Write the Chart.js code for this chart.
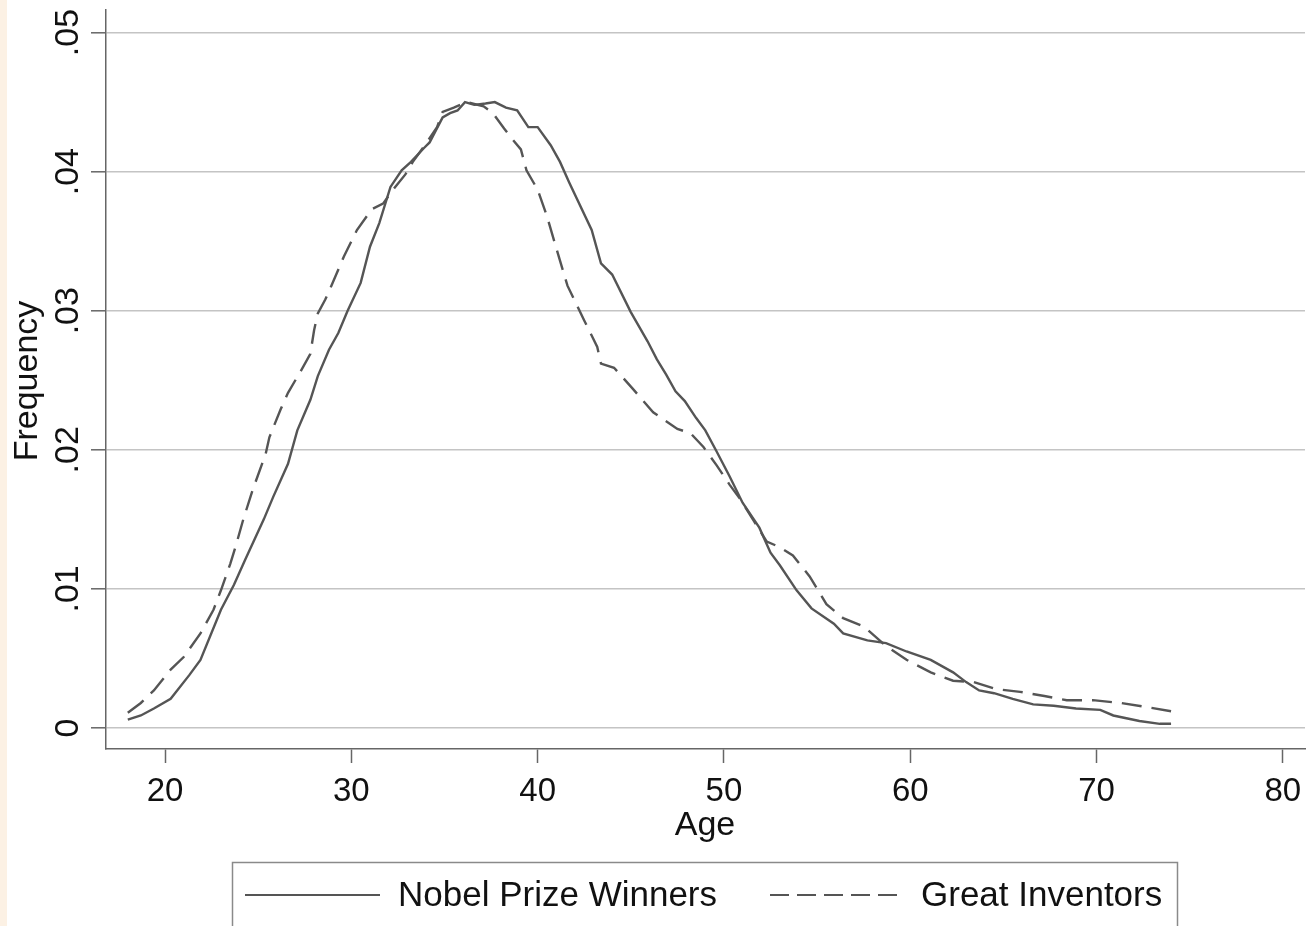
<!DOCTYPE html>
<html>
<head>
<meta charset="utf-8">
<script src="https://cdn.jsdelivr.net/npm/chart.js@4"></script>
<style>
html,body{margin:0;padding:0;}
body{width:1306px;height:926px;overflow:hidden;background:linear-gradient(to right,#fcf1e4 0,#fcf1e4 7px,#fff 7px);}
canvas{display:block;}
</style>
</head>
<body>
<canvas id="c" width="1306" height="926"></canvas>
<script>
// ages / densities
const nobelAge = [18.0,18.7,19.4,20.3,21.3,21.9,23.0,23.7,24.3,25.3,25.8,26.6,27.1,27.8,28.2,28.8,29.3,29.8,30.5,31.0,31.5,32.1,32.7,33.2,33.9,34.2,34.9,35.3,35.7,36.1,36.6,37.2,37.7,38.3,38.9,39.5,40.0,40.7,41.2,41.7,42.9,43.4,44.0,45.0,45.9,46.4,46.9,47.4,47.9,48.5,49.0,49.6,50.3,51.0,51.9,52.5,53.0,53.9,54.7,55.9,56.4,57.7,58.7,59.8,61.1,62.3,63.0,63.7,64.5,65.5,66.6,67.7,68.9,70.2,70.9,72.3,73.4,74.0];
const nobelFreq = [.0006,.0009,.0014,.0021,.0038,.0049,.0085,.0103,.0121,.0150,.0166,.0190,.0214,.0236,.0253,.0272,.0284,.0300,.0320,.0346,.0363,.0389,.0401,.0407,.0417,.0421,.0439,.0442,.0444,.0450,.0448,.0449,.0450,.0446,.0444,.0432,.0432,.0419,.0407,.0392,.0358,.0334,.0326,.0299,.0278,.0265,.0254,.0242,.0235,.0223,.0214,.0199,.0181,.0162,.0144,.0126,.0117,.0099,.0086,.0075,.0068,.0063,.0061,.0055,.0049,.0040,.0033,.0027,.0025,.0021,.0017,.0016,.0014,.0013,.0009,.0005,.0003,.0003];

const invAge = [18.0,18.7,19.4,20.3,21.0,21.9,22.6,23.0,23.5,23.8,24.2,24.7,25.4,25.6,26.2,26.6,27.3,27.8,28.0,28.2,28.6,28.9,29.6,30.3,31.1,31.7,32.3,32.9,33.3,34.0,34.6,34.9,35.5,36.2,37.1,37.6,38.2,38.6,39.1,39.4,40.0,40.5,41.0,41.6,42.5,43.2,43.4,44.1,45.1,46.2,47.5,48.2,48.9,49.6,50.3,50.9,52.3,53.0,53.7,54.6,55.5,56.4,57.5,58.7,59.8,61.1,62.3,63.4,64.6,65.9,67.2,68.4,69.8,71.3,72.7,74.0];
const invFreq = [.0011,.0018,.0027,.0042,.0051,.0068,.0085,.0099,.0118,.0131,.0150,.0171,.0197,.0209,.0229,.0241,.0257,.0269,.0286,.0298,.0308,.0317,.0339,.0358,.0373,.0377,.0388,.0398,.0407,.0420,.0432,.0443,.0446,.0450,.0447,.0442,.0431,.0424,.0416,.0401,.0387,.0368,.0345,.0318,.0293,.0274,.0262,.0259,.0244,.0227,.0215,.0212,.0202,.0189,.0175,.0164,.0134,.0130,.0124,.0109,.0089,.0079,.0073,.0059,.0049,.0040,.0034,.0033,.0028,.0026,.0023,.0020,.0020,.0018,.0015,.0012];

const xTicks = [20,30,40,50,60,70,80];
const yTicks = [0,.01,.02,.03,.04,.05];
const yLabels = ['0','.01','.02','.03','.04','.05'];
const seriesNames = ['Nobel Prize Winners','Great Inventors'];

const lineCol = '#555555';
const font = '"Liberation Sans", Arial, sans-serif';

const toPts = (xs, ys) => xs.map((a, i) => ({x: a, y: ys[i]}));

// axis labels, titles and the boxed legend (Stata look)
const textPlugin = {
  id: 'texts',
  afterDraw(chart) {
    const ctx = chart.ctx;
    const xs = chart.scales.x, ys = chart.scales.y;
    ctx.save();
    ctx.fillStyle = '#111';
    ctx.textAlign = 'center';
    ctx.textBaseline = 'alphabetic';

    ctx.font = '33px ' + font;
    xTicks.forEach(v => ctx.fillText(String(v), xs.getPixelForValue(v), 801));

    ctx.font = '34px ' + font;
    yTicks.forEach((v, i) => {
      ctx.save();
      ctx.translate(78, ys.getPixelForValue(v));
      ctx.rotate(-Math.PI / 2);
      ctx.fillText(yLabels[i], 0, 0);
      ctx.restore();
    });

    ctx.fillText('Age', 705, 835);
    ctx.save();
    ctx.translate(37, 381);
    ctx.rotate(-Math.PI / 2);
    ctx.fillText('Frequency', 0, 0);
    ctx.restore();

    // legend box
    ctx.strokeStyle = '#8a8a8a';
    ctx.lineWidth = 1.5;
    ctx.strokeRect(232.5, 862.5, 945, 90);

    ctx.strokeStyle = lineCol;
    ctx.lineWidth = 2.2;
    ctx.beginPath(); ctx.moveTo(245, 895); ctx.lineTo(380, 895); ctx.stroke();
    ctx.setLineDash([19, 8]);
    ctx.beginPath(); ctx.moveTo(770, 895); ctx.lineTo(905, 895); ctx.stroke();
    ctx.setLineDash([]);

    ctx.font = '35px ' + font;
    ctx.textAlign = 'left';
    ctx.fillText(seriesNames[0], 398, 906);
    ctx.fillText(seriesNames[1], 921, 906);
    ctx.restore();
  }
};

new Chart(document.getElementById('c'), {
  type: 'line',
  data: {
    datasets: [{
      label: seriesNames[0],
      data: toPts(nobelAge, nobelFreq),
      borderColor: lineCol,
      borderWidth: 2.4,
      pointRadius: 0,
      tension: 0
    }, {
      label: seriesNames[1],
      data: toPts(invAge, invFreq),
      borderColor: lineCol,
      borderWidth: 2.4,
      borderDash: [20, 10],
      pointRadius: 0,
      tension: 0
    }]
  },
  options: {
    responsive: false,
    animation: false,
    devicePixelRatio: 1,
    layout: {padding: {left: 91, top: 10, right: 1, bottom: 163}},
    plugins: {legend: {display: false}, tooltip: {enabled: false}},
    scales: {
      x: {
        type: 'linear',
        min: 16.83,
        max: 81.19,
        afterBuildTicks: s => { s.ticks = xTicks.map(v => ({value: v})); },
        ticks: {display: false},
        grid: {drawOnChartArea: false, drawTicks: true, tickLength: 14, tickColor: '#666', tickWidth: 1.5},
        border: {color: '#666', width: 1.5}
      },
      y: {
        min: -0.00151,
        max: 0.05162,
        afterBuildTicks: s => { s.ticks = yTicks.map(v => ({value: v})); },
        ticks: {display: false},
        grid: {color: '#c4c4c4', lineWidth: 1.6, drawTicks: true, tickLength: 15, tickColor: '#666', tickWidth: 1.5},
        border: {color: '#666', width: 1.5}
      }
    }
  },
  plugins: [textPlugin]
});
</script>
</body>
</html>
